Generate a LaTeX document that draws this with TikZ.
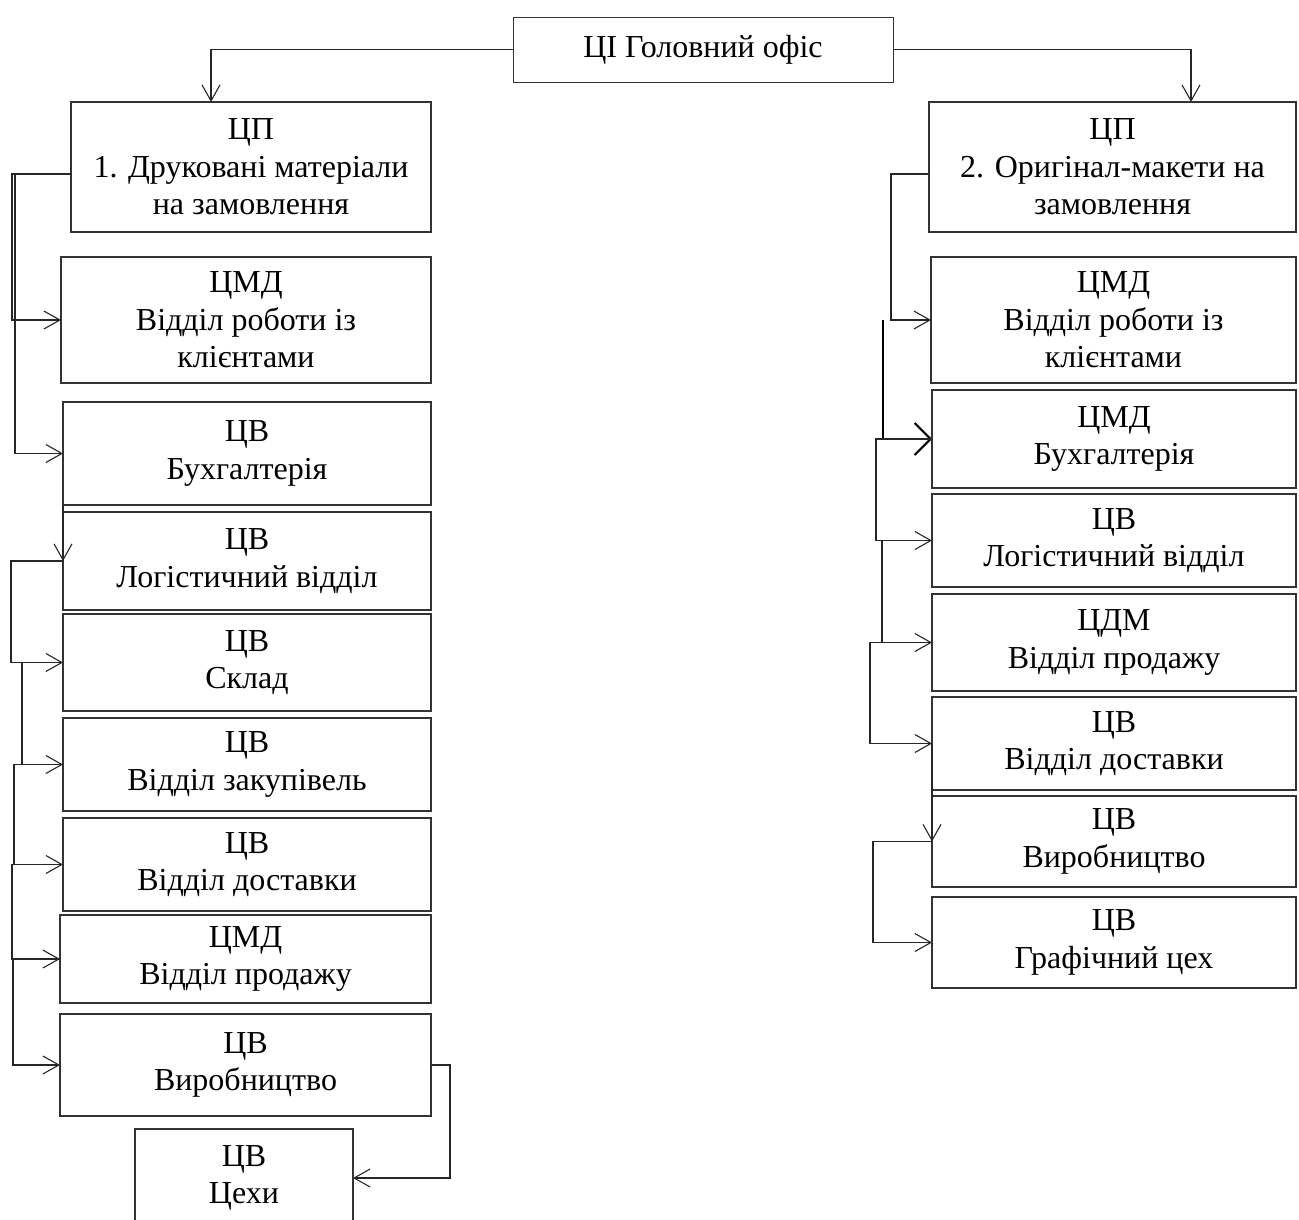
\documentclass[tikz,border=0pt]{standalone}
\usepackage{fontspec}
\setmainfont{Liberation Serif}
\usetikzlibrary{arrows.meta}
\begin{document}
\begin{tikzpicture}[x=1pt,y=-1pt,
  box/.style={draw=black!80, line width=1.2pt, inner sep=0pt, outer sep=0pt,
    align=center, font=\fontsize{32}{37.5}\selectfont},
  conn/.style={draw=black!85, line width=1.1pt,
    -{Straight Barb[length=16pt,width=18pt,line width=1.1pt]}},
  bold conn/.style={draw=black, line width=2pt,
    -{Straight Barb[length=16pt,width=32pt,line width=2pt]}},
]
\useasboundingbox (0,0) rectangle (1299,1219);
\clip (0,0) rectangle (1299,1219);

% top
\node[box, line width=1pt, minimum width=380pt, minimum height=65pt] (top) at (703,49.5) {ЦІ Головний офіс};

% left column
\node[box, minimum width=360pt, minimum height=130pt] (lc0) at (251,167) {ЦП\\1. Друковані матеріали\\на замовлення};
\node[box, minimum width=370pt, minimum height=126pt] (lc1) at (246,320) {ЦМД\\Відділ роботи із\\клієнтами};
\node[box, minimum width=368pt, minimum height=103pt] (lc2) at (247,453.5) {ЦВ\\Бухгалтерія};
\node[box, minimum width=368pt, minimum height=98pt] (lc3) at (247,561) {ЦВ\\Логістичний відділ};
\node[box, minimum width=368pt, minimum height=97pt] (lc4) at (247,662.5) {ЦВ\\Склад};
\node[box, minimum width=368pt, minimum height=93pt] (lc5) at (247,764.5) {ЦВ\\Відділ закупівель};
\node[box, minimum width=368pt, minimum height=93pt] (lc6) at (247,864.5) {ЦВ\\Відділ доставки};
\node[box, minimum width=371pt, minimum height=88pt] (lc7) at (245.5,959) {ЦМД\\Відділ продажу};
\node[box, minimum width=371pt, minimum height=102pt] (lc8) at (245.5,1065) {ЦВ\\Виробництво};
\node[box, minimum width=218pt, minimum height=98pt] (lc9) at (244,1178) {ЦВ\\Цехи};

% right column
\node[box, minimum width=367pt, minimum height=130pt] (rc0) at (1112.5,167) {ЦП\\ 2. Оригінал-макети на\\замовлення};
\node[box, line width=2pt, minimum width=365pt, minimum height=126pt] (rc1) at (1113.5,320) {ЦМД\\Відділ роботи із\\клієнтами};
\node[box, minimum width=364pt, minimum height=98pt] (rc2) at (1114,439) {ЦМД\\Бухгалтерія};
\node[box, minimum width=364pt, minimum height=93pt] (rc3) at (1114,540.5) {ЦВ\\Логістичний відділ};
\node[box, minimum width=364pt, minimum height=97pt] (rc4) at (1114,642.5) {ЦДМ\\Відділ продажу};
\node[box, minimum width=364pt, minimum height=93pt] (rc5) at (1114,743.5) {ЦВ\\Відділ доставки};
\node[box, minimum width=364pt, minimum height=91pt] (rc6) at (1114,841.5) {ЦВ\\Виробництво};
\node[box, minimum width=364pt, minimum height=91pt] (rc7) at (1114,942.5) {ЦВ\\Графічний цех};

% top connectors
\draw[conn] (top.west) -| ([xshift=-40pt]lc0.north);
\draw[conn] (top.east) -| ([xshift=78.5pt]rc0.north);

% left connectors
\draw[conn] ([yshift=-7pt]lc0.west) -- ++(-59,0) |- (lc1.west);
\draw[conn] ([yshift=-7pt]lc0.west) -- ++(-56,0) |- (lc2.west);
\draw[conn] (lc2.south west) -- (lc3.west);
\draw[conn] (lc3.west) -- ++(-52,0) |- (lc4.west);
\draw[conn] (lc4.west) -- ++(-41,0) |- (lc5.west);
\draw[conn] (lc5.west) -- ++(-49,0) |- (lc6.west);
\draw[conn] (lc6.west) -- ++(-51,0) |- (lc7.west);
\draw[conn] (lc7.west) -- ++(-47,0) |- (lc8.west);
\draw[conn] (lc8.east) -- ++(19,0) |- (lc9.east);

% right connectors
\draw[conn] ([yshift=-7pt]rc0.west) -- ++(-38,0) |- (rc1.west);
\draw[bold conn] ([xshift=-48pt]rc1.west) |- (rc2.west);
\draw[conn] (rc2.west) -- ++(-56,0) |- (rc3.west);
\draw[conn] (rc3.west) -- ++(-50,0) |- (rc4.west);
\draw[conn] (rc4.west) -- ++(-62,0) |- (rc5.west);
\draw[conn] (rc5.west) -- (rc6.west);
\draw[conn] (rc6.west) -- ++(-59,0) |- (rc7.west);
\end{tikzpicture}
\end{document}
